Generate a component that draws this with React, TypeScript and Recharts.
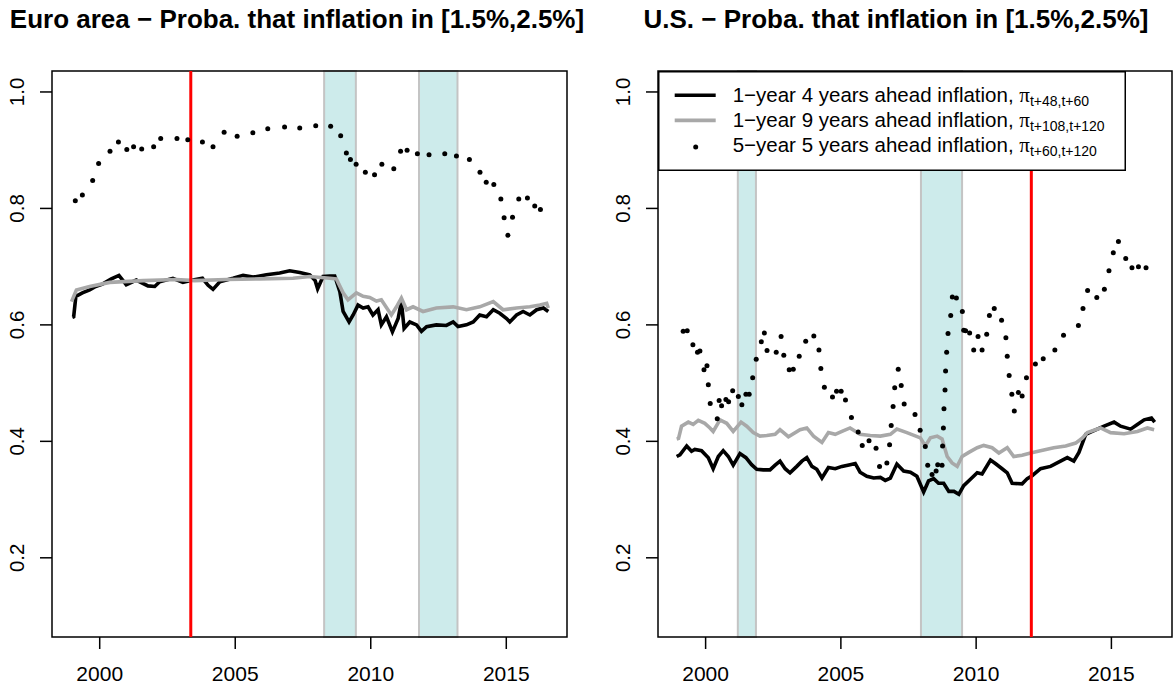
import React from 'react';
import {
  ComposedChart,
  Line,
  Scatter,
  XAxis,
  YAxis,
  ReferenceArea,
  ReferenceLine,
  Legend,
} from 'recharts';

const FONT = '"Liberation Sans", Arial, Helvetica, sans-serif';

// ---------- axes ----------
const xTicks = [2000, 2005, 2010, 2015];
const yTicks = [0.2, 0.4, 0.6, 0.8, 1.0];
const xDomain = [1998.24, 2017.24];
const yDomain = [0.064, 1.036];

// ---------- titles / legend ----------
const titleEuro = 'Euro area − Proba. that inflation in [1.5%,2.5%]';
const titleUS = 'U.S. − Proba. that inflation in [1.5%,2.5%]';
const legendLabels = [
  '1−year 4 years ahead inflation, ',
  '1−year 9 years ahead inflation, ',
  '5−year 5 years ahead inflation, ',
];
const legendSubs = ['t+48,t+60', 't+108,t+120', 't+60,t+120'];

// ---------- Euro area ----------
const euroBands = [
  [2008.28, 2009.45],
  [2011.78, 2013.2],
];
const euroTarget = 2003.36;

const euro1y4yYears = [
  1998.99, 1999.04, 1999.12, 1999.36, 1999.63, 1999.85, 2000.1, 2000.43, 2000.71, 2000.98,
  2001.35, 2001.78, 2002.03, 2002.21, 2002.7, 2003.07, 2003.44, 2003.79, 2004.0, 2004.18,
  2004.43, 2004.92, 2005.29, 2005.66, 2006.15, 2006.64, 2007.01, 2007.38, 2007.75, 2007.95,
  2008.04, 2008.24, 2008.49, 2008.67, 2008.86, 2008.98, 2009.2, 2009.35, 2009.53, 2009.72,
  2009.9, 2010.08, 2010.27, 2010.39, 2010.58, 2010.8, 2011.01, 2011.13, 2011.23, 2011.44,
  2011.69, 2011.87, 2012.06, 2012.42, 2012.79, 2013.04, 2013.22, 2013.53, 2013.78, 2014.02,
  2014.27, 2014.52, 2014.76, 2015.01, 2015.13, 2015.38, 2015.62, 2015.87, 2016.12, 2016.37,
  2016.55,
];
const euro1y4yValues = [
  0.613, 0.614, 0.649, 0.655, 0.66, 0.666, 0.67, 0.679, 0.685, 0.669,
  0.677, 0.667, 0.666, 0.674, 0.68, 0.673, 0.677, 0.68, 0.668, 0.661,
  0.674, 0.68, 0.685, 0.682, 0.686, 0.689, 0.693, 0.69, 0.686, 0.676,
  0.662, 0.683, 0.684, 0.684, 0.657, 0.623, 0.605, 0.617, 0.634, 0.629,
  0.631, 0.617, 0.626, 0.6, 0.614, 0.588, 0.611, 0.64, 0.594, 0.605,
  0.6, 0.589, 0.597, 0.6, 0.599, 0.605, 0.597, 0.6, 0.605, 0.617,
  0.614, 0.626, 0.62, 0.611, 0.605, 0.617, 0.623, 0.617, 0.626, 0.629,
  0.623,
];

const euro1y9yYears = [
  1998.96, 1999.14, 1999.63, 2000.37, 2001.6, 2002.83, 2003.5, 2004.68, 2005.9, 2007.13,
  2007.75, 2008.49, 2008.73, 2008.98, 2009.16, 2009.47, 2009.72, 2009.96, 2010.21, 2010.39,
  2010.76, 2010.95, 2011.13, 2011.32, 2011.56, 2011.93, 2012.42, 2013.04, 2013.53, 2014.02,
  2014.52, 2014.88, 2015.38, 2015.87, 2016.24, 2016.49, 2016.55,
];
const euro1y9yValues = [
  0.64, 0.66, 0.666, 0.673, 0.676, 0.678, 0.676, 0.678, 0.679, 0.68,
  0.683, 0.68, 0.679, 0.655, 0.643, 0.655, 0.649, 0.647, 0.641, 0.643,
  0.617, 0.631, 0.646, 0.626, 0.631, 0.623, 0.629, 0.631, 0.626, 0.631,
  0.64, 0.626, 0.629, 0.631, 0.634, 0.637, 0.629,
];

const euro5y5yYears = [
  1999.1, 1999.36, 1999.74, 1999.96, 2000.38, 2000.69, 2001.0, 2001.25, 2001.55, 2001.99,
  2002.25, 2002.85, 2003.25, 2003.79, 2004.18, 2004.59, 2005.07, 2005.65, 2006.2, 2006.82,
  2007.38, 2007.97, 2008.52, 2008.89, 2009.1, 2009.25, 2009.46, 2009.8, 2010.14, 2010.41,
  2010.85, 2011.1, 2011.34, 2011.72, 2012.15, 2012.73, 2013.16, 2013.64, 2014.03, 2014.26,
  2014.54, 2014.8, 2014.92, 2015.06, 2015.23, 2015.46, 2015.78, 2016.05, 2016.26,
];
const euro5y5yValues = [
  0.813, 0.823, 0.848, 0.877, 0.898, 0.914, 0.901, 0.906, 0.902, 0.906,
  0.92, 0.92, 0.918, 0.914, 0.906, 0.931, 0.924, 0.93, 0.937, 0.94,
  0.938, 0.942, 0.941, 0.925, 0.895, 0.884, 0.876, 0.862, 0.858, 0.876,
  0.868, 0.898, 0.9, 0.894, 0.892, 0.894, 0.89, 0.884, 0.862, 0.845,
  0.841, 0.816, 0.784, 0.754, 0.785, 0.816, 0.818, 0.804, 0.798,
];

// ---------- U.S. ----------
const usBands = [
  [2001.19, 2001.86],
  [2007.96, 2009.48],
];
const usTarget = 2012.04;

const us1y4yYears = [
  1998.93, 1999.05, 1999.3, 1999.48, 1999.6, 1999.85, 2000.1, 2000.28, 2000.47, 2000.65,
  2000.84, 2001.02, 2001.27, 2001.49, 2001.7, 2001.89, 2002.13, 2002.38, 2002.57, 2002.75,
  2002.94, 2003.12, 2003.37, 2003.56, 2003.74, 2003.93, 2004.11, 2004.3, 2004.54, 2004.79,
  2005.04, 2005.34, 2005.53, 2005.71, 2005.96, 2006.21, 2006.46, 2006.64, 2006.83, 2007.07,
  2007.32, 2007.57, 2007.81, 2008.06, 2008.24, 2008.43, 2008.61, 2008.8, 2008.99, 2009.18,
  2009.36, 2009.54, 2009.79, 2010.04, 2010.22, 2010.53, 2010.71, 2010.96, 2011.15, 2011.33,
  2011.7, 2011.89, 2012.07, 2012.38, 2012.75, 2013.12, 2013.37, 2013.61, 2013.8, 2014.05,
  2014.23, 2014.73, 2015.1, 2015.34, 2015.71, 2015.96, 2016.21, 2016.48, 2016.6,
];
const us1y4yValues = [
  0.374, 0.377, 0.392, 0.383, 0.386, 0.384, 0.372, 0.353, 0.374, 0.384,
  0.374, 0.359, 0.379, 0.372, 0.36, 0.352, 0.351, 0.351, 0.359, 0.366,
  0.353, 0.346, 0.357, 0.366, 0.372, 0.357, 0.352, 0.337, 0.355, 0.353,
  0.357, 0.36, 0.362, 0.347, 0.34, 0.337, 0.338, 0.333, 0.337, 0.361,
  0.349, 0.347, 0.34, 0.313, 0.332, 0.336, 0.328, 0.328, 0.314, 0.314,
  0.309, 0.324, 0.335, 0.346, 0.344, 0.368, 0.362, 0.353, 0.346, 0.328,
  0.327, 0.336, 0.341, 0.353, 0.357, 0.366, 0.372, 0.366, 0.381, 0.412,
  0.416, 0.426, 0.433, 0.426, 0.421, 0.429, 0.437, 0.44, 0.433,
];

const us1y9yYears = [
  1998.93, 1999.0, 1999.11, 1999.36, 1999.54, 1999.73, 1999.97, 2000.16, 2000.28, 2000.53,
  2000.78, 2001.02, 2001.31, 2001.52, 2001.76, 2002.01, 2002.26, 2002.57, 2002.75, 2003.06,
  2003.49, 2003.74, 2003.99, 2004.3, 2004.54, 2004.79, 2005.04, 2005.34, 2005.71, 2006.09,
  2006.46, 2006.83, 2007.07, 2007.44, 2007.94, 2008.12, 2008.31, 2008.56, 2008.74, 2008.93,
  2009.11, 2009.3, 2009.48, 2009.73, 2010.04, 2010.28, 2010.59, 2010.84, 2011.15, 2011.39,
  2011.7, 2012.01, 2012.5, 2012.87, 2013.31, 2013.68, 2013.93, 2014.11, 2014.6, 2014.97,
  2015.47, 2015.96, 2016.33, 2016.58,
];
const us1y9yValues = [
  0.404, 0.405, 0.426, 0.433, 0.429, 0.436, 0.431, 0.423, 0.417, 0.437,
  0.431, 0.417, 0.433, 0.426, 0.415, 0.409, 0.41, 0.412, 0.42, 0.408,
  0.42, 0.423, 0.409, 0.398, 0.415, 0.412, 0.417, 0.423, 0.412, 0.41,
  0.409, 0.412, 0.421, 0.415, 0.406, 0.392, 0.406, 0.409, 0.404, 0.374,
  0.363, 0.357, 0.374, 0.381, 0.389, 0.393, 0.389, 0.38, 0.389, 0.374,
  0.376, 0.38, 0.385, 0.389, 0.392, 0.397, 0.406, 0.415, 0.423, 0.415,
  0.413, 0.417, 0.423, 0.42,
];

const us5y5yYears = [
  1999.17, 1999.32, 1999.53, 1999.7, 1999.79, 1999.94, 2000.05, 2000.1, 2000.17, 2000.43,
  2000.5, 2000.59, 2000.75, 2000.85, 2001.0, 2001.21, 2001.34, 2001.49, 2001.61, 2001.74,
  2001.87, 2002.06, 2002.17, 2002.27, 2002.61, 2002.79, 2002.89, 2003.09, 2003.24, 2003.46,
  2003.7, 2004.0, 2004.19, 2004.26, 2004.39, 2004.69, 2004.84, 2005.01, 2005.17, 2005.39,
  2005.64, 2005.79, 2006.04, 2006.3, 2006.43, 2006.7, 2006.8, 2006.86, 2006.93, 2006.99,
  2007.12, 2007.23, 2007.34, 2007.74, 2007.93, 2008.12, 2008.21, 2008.37, 2008.52, 2008.58,
  2008.74, 2008.76, 2008.79, 2008.81, 2008.85, 2008.87, 2008.91, 2008.96, 2009.06, 2009.12,
  2009.27, 2009.49, 2009.54, 2009.61, 2009.76, 2009.91, 2010.07, 2010.22, 2010.39, 2010.49,
  2010.67, 2010.94, 2011.1, 2011.15, 2011.22, 2011.32, 2011.41, 2011.56, 2011.7, 2011.86,
  2012.19, 2012.48, 2012.91, 2013.23, 2013.78, 2013.95, 2014.12, 2014.46, 2014.74, 2014.91,
  2015.07, 2015.26, 2015.53, 2015.76, 2016.0, 2016.28,
];
const us5y5yValues = [
  0.589, 0.59, 0.566, 0.553, 0.555, 0.523, 0.53, 0.497, 0.465, 0.439,
  0.47, 0.461, 0.472, 0.468, 0.487, 0.477, 0.463, 0.481, 0.481, 0.509,
  0.541, 0.571, 0.586, 0.556, 0.553, 0.58, 0.548, 0.523, 0.524, 0.546,
  0.572, 0.581, 0.557, 0.525, 0.493, 0.476, 0.486, 0.486, 0.471, 0.441,
  0.416, 0.393, 0.401, 0.388, 0.357, 0.363, 0.394, 0.427, 0.46, 0.492,
  0.524, 0.496, 0.464, 0.446, 0.419, 0.391, 0.359, 0.343, 0.349, 0.36,
  0.359, 0.392, 0.423, 0.456, 0.488, 0.521, 0.553, 0.585, 0.616, 0.648,
  0.646, 0.623, 0.591, 0.59, 0.586, 0.557, 0.58, 0.557, 0.584, 0.616,
  0.628, 0.608, 0.578, 0.546, 0.513, 0.481, 0.452, 0.484, 0.478, 0.509,
  0.533, 0.542, 0.557, 0.582, 0.599, 0.628, 0.659, 0.647, 0.661, 0.693,
  0.724, 0.743, 0.714, 0.698, 0.7, 0.698,
];

// ---------- helpers ----------
const pts = (xs: number[], ys: number[]) => xs.map((x, i) => ({ x, y: ys[i] }));

const YTick = (props: any) => {
  const { x, y, payload } = props;
  return (
    <text
      x={x}
      y={y}
      transform={`rotate(-90, ${x}, ${y})`}
      textAnchor="middle"
      fontSize={20.5}
      fontFamily={FONT}
      fill="#000"
    >
      {Number(payload.value).toFixed(1)}
    </text>
  );
};

const XTick = (props: any) => {
  const { x, y, payload } = props;
  return (
    <text x={x} y={y} textAnchor="middle" fontSize={21} fontFamily={FONT} fill="#000">
      {payload.value}
    </text>
  );
};

const Dot = (props: any) => {
  const { cx, cy } = props;
  if (cx == null || cy == null) return null;
  return <circle cx={cx} cy={cy} r={2.5} fill="#000" />;
};

const BLACK_W = 3.6;
const GRAY = '#a8a8a8';
const BAND_FILL = '#cdebeb';
const BAND_STROKE = '#c4c4c4';

const LegendBox = () => {
  const W = 468;
  const H = 100;
  const rowsY = [24.3, 49.4, 76];
  const base = [30.8, 55.8, 81];
  return (
    <svg width={W} height={H} style={{ display: 'block' }}>
      <rect x={0.75} y={0.75} width={W - 1.5} height={H - 1.5} fill="#fff" stroke="#000" strokeWidth={1.5} />
      <line x1={16.7} x2={57.7} y1={rowsY[0]} y2={rowsY[0]} stroke="#000" strokeWidth={BLACK_W} />
      <line x1={16.7} x2={57.7} y1={rowsY[1]} y2={rowsY[1]} stroke={GRAY} strokeWidth={BLACK_W} />
      <circle cx={37.7} cy={rowsY[2]} r={2.5} fill="#000" />
      {legendLabels.map((lab, i) => (
        <text key={i} x={74.7} y={base[i]} fontSize={20.5} fontFamily={FONT} fill="#000">
          {lab}
          <tspan fontFamily='"Liberation Serif", "DejaVu Serif", serif' fontSize={21}>π</tspan>
          <tspan fontSize={14} dy={4}>{legendSubs[i]}</tspan>
        </text>
      ))}
    </svg>
  );
};

type PanelProps = {
  width: number;
  yAxisWidth: number;
  rightMargin: number;
  bands: number[][];
  target: number;
  line4: { x: number; y: number }[];
  line9: { x: number; y: number }[];
  dots: { x: number; y: number }[];
  legend?: boolean;
};

const Panel = ({ width, yAxisWidth, rightMargin, bands, target, line4, line9, dots, legend }: PanelProps) => (
  <ComposedChart
    width={width}
    height={686}
    margin={{ top: 71, right: rightMargin, bottom: 0, left: 0 }}
  >
    <XAxis
      dataKey="x"
      type="number"
      domain={xDomain}
      ticks={xTicks}
      allowDataOverflow
      axisLine={false}
      tickLine={{ stroke: '#000', strokeWidth: 1.5 }}
      tickSize={12}
      tickMargin={32}
      height={49}
      tick={<XTick />}
      interval={0}
    />
    <YAxis
      type="number"
      domain={yDomain}
      ticks={yTicks}
      allowDataOverflow
      axisLine={false}
      tickLine={{ stroke: '#000', strokeWidth: 1.5 }}
      tickSize={12}
      tickMargin={16}
      width={yAxisWidth}
      tick={<YTick />}
      interval={0}
    />
    {bands.map((b, i) => (
      <ReferenceArea
        key={'b' + i}
        x1={b[0]}
        x2={b[1]}
        y1={yDomain[0]}
        y2={yDomain[1]}
        fill={BAND_FILL}
        fillOpacity={1}
        stroke={BAND_STROKE}
        strokeWidth={2}
      />
    ))}
    <Line
      data={line4}
      dataKey="y"
      type="linear"
      stroke="#000"
      strokeWidth={BLACK_W}
      dot={false}
      isAnimationActive={false}
    />
    <Line
      data={line9}
      dataKey="y"
      type="linear"
      stroke={GRAY}
      strokeWidth={BLACK_W}
      dot={false}
      isAnimationActive={false}
    />
    <Scatter data={dots} dataKey="y" shape={<Dot />} isAnimationActive={false} />
    <ReferenceLine x={target} stroke="#ff0000" strokeWidth={3} />
    <ReferenceArea
      x1={xDomain[0]}
      x2={xDomain[1]}
      y1={yDomain[0]}
      y2={yDomain[1]}
      fill="none"
      stroke="#000"
      strokeWidth={1.5}
    />
    {legend && (
      <Legend
        layout="vertical"
        align="center"
        verticalAlign="middle"
        content={() => <LegendBox />}
        wrapperStyle={{ left: 72, top: 71, width: 468, height: 100 }}
      />
    )}
  </ComposedChart>
);

const titleStyle: React.CSSProperties = {
  position: 'absolute',
  top: 6,
  width: 700,
  textAlign: 'center',
  fontFamily: FONT,
  fontWeight: 'bold',
  fontSize: 26,
  lineHeight: '26px',
  whiteSpace: 'nowrap',
};

export default function App() {
  return (
    <div
      style={{
        position: 'absolute',
        left: 0,
        top: 0,
        width: 1173,
        height: 686,
        background: '#fff',
        overflow: 'hidden',
      }}
    >
      <div style={{ position: 'absolute', left: 0, top: 0 }}>
        <Panel
          width={586}
          yAxisWidth={52}
          rightMargin={19}
          bands={euroBands}
          target={euroTarget}
          line4={pts(euro1y4yYears, euro1y4yValues)}
          line9={pts(euro1y9yYears, euro1y9yValues)}
          dots={pts(euro5y5yYears, euro5y5yValues)}
        />
      </div>
      <div style={{ position: 'absolute', left: 586, top: 0 }}>
        <Panel
          width={587}
          yAxisWidth={72}
          rightMargin={1}
          bands={usBands}
          target={usTarget}
          line4={pts(us1y4yYears, us1y4yValues)}
          line9={pts(us1y9yYears, us1y9yValues)}
          dots={pts(us5y5yYears, us5y5yValues)}
          legend
        />
      </div>
      <div style={{ ...titleStyle, left: 297 - 350 }}>{titleEuro}</div>
      <div style={{ ...titleStyle, left: 896 - 350 }}>{titleUS}</div>
    </div>
  );
}
